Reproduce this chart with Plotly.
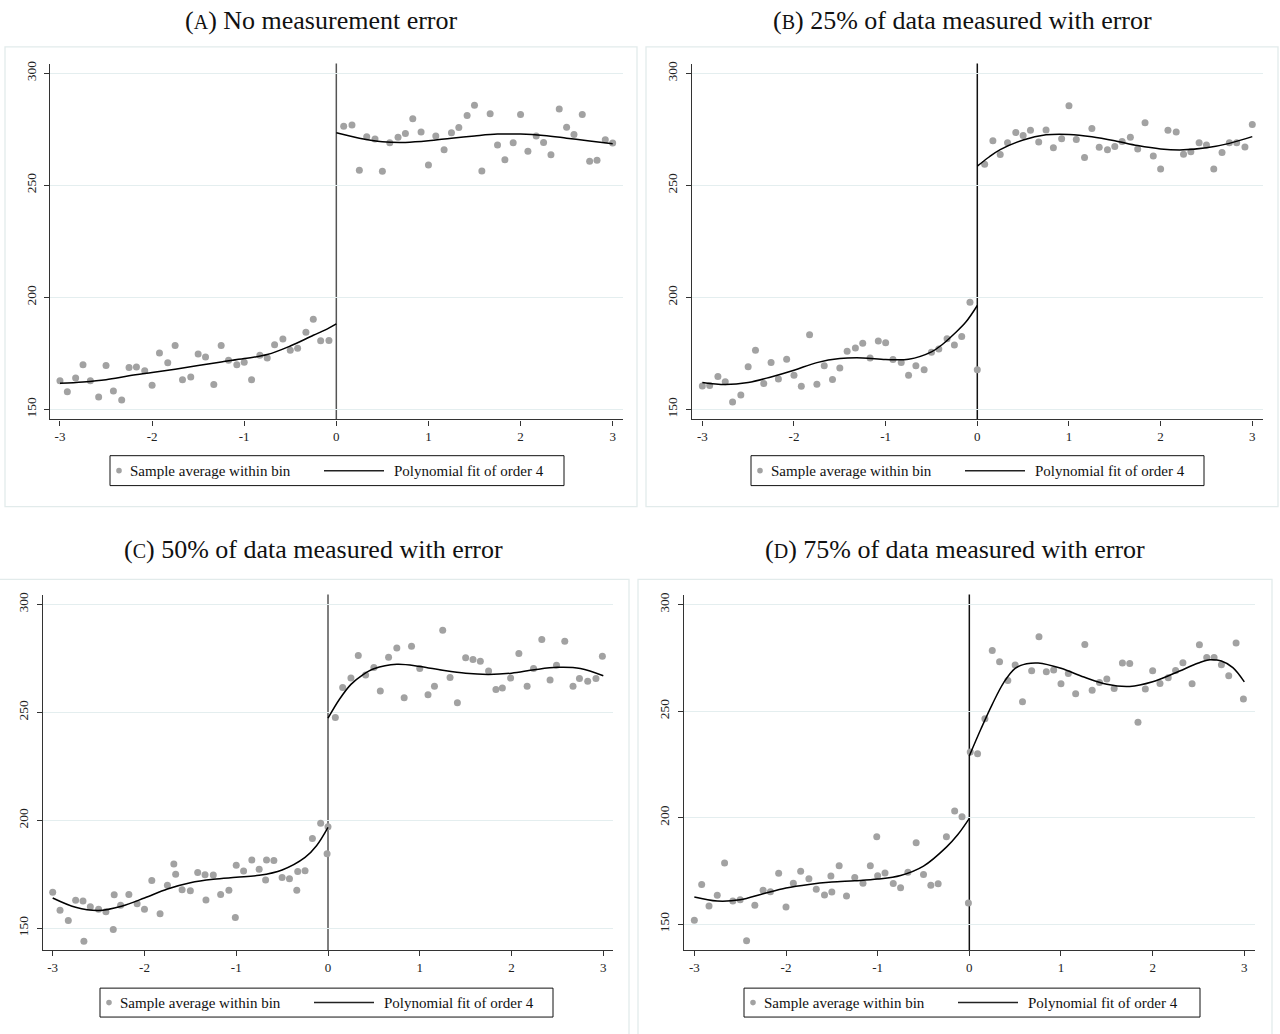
import plotly.graph_objects as go

W, H = 1280, 1034

# ---------------- data: sample averages within bins ----------------
# Panel A: no measurement error
a_left_x = [-3.00, -2.92, -2.83, -2.75, -2.67, -2.58, -2.50, -2.42, -2.33, -2.25, -2.17, -2.08,
            -2.00, -1.92, -1.83, -1.75, -1.67, -1.58, -1.50, -1.42, -1.33, -1.25, -1.17, -1.08,
            -1.00, -0.92, -0.83, -0.75, -0.67, -0.58, -0.50, -0.42, -0.33, -0.25, -0.17, -0.08]
a_left_y = [162.8, 157.9, 164.1, 170.0, 162.8, 155.6, 169.6, 158.2, 154.2, 168.7, 169.0, 167.3,
            160.8, 175.2, 170.8, 178.5, 163.3, 164.5, 174.8, 173.4, 161.1, 178.5, 172.0, 170.0,
            171.1, 163.3, 174.2, 173.0, 178.9, 181.4, 176.4, 177.3, 184.4, 190.2, 180.7, 180.8]
a_right_x = [0.08, 0.17, 0.25, 0.33, 0.42, 0.50, 0.58, 0.67, 0.75, 0.83, 0.92, 1.00,
             1.08, 1.17, 1.25, 1.33, 1.42, 1.50, 1.58, 1.67, 1.75, 1.83, 1.92, 2.00,
             2.08, 2.17, 2.25, 2.33, 2.42, 2.50, 2.58, 2.67, 2.75, 2.83, 2.92, 3.00]
a_right_y = [276.3, 276.9, 256.7, 271.6, 270.6, 256.2, 268.9, 271.4, 273.1, 279.6, 273.7, 259.0,
             272.0, 265.8, 273.4, 275.7, 281.1, 285.7, 256.4, 281.9, 267.9, 261.4, 268.9, 281.5,
             265.2, 272.0, 269.1, 263.6, 284.0, 275.9, 272.6, 281.5, 260.7, 261.1, 270.3, 268.8]

# Panel B: 25% of data measured with error
b_left_x = [-3.00, -2.92, -2.83, -2.75, -2.67, -2.58, -2.50, -2.42, -2.33, -2.25, -2.17, -2.08,
            -2.00, -1.92, -1.83, -1.75, -1.67, -1.58, -1.50, -1.42, -1.33, -1.25, -1.17, -1.08,
            -1.00, -0.92, -0.83, -0.75, -0.67, -0.58, -0.50, -0.42, -0.33, -0.25, -0.17, -0.08, 0.00]
b_left_y = [160.5, 160.7, 164.7, 162.3, 153.3, 156.4, 169.0, 176.4, 161.6, 170.9, 163.6, 172.4,
            165.3, 160.3, 183.3, 161.2, 169.5, 163.3, 168.5, 176.0, 177.4, 179.5, 173.0, 180.6,
            179.8, 172.3, 170.9, 165.3, 169.5, 167.7, 175.5, 177.0, 181.5, 178.8, 182.5, 197.8, 167.7]
b_right_x = [0.08, 0.17, 0.25, 0.33, 0.42, 0.50, 0.58, 0.67, 0.75, 0.83, 0.92, 1.00,
             1.08, 1.17, 1.25, 1.33, 1.42, 1.50, 1.58, 1.67, 1.75, 1.83, 1.92, 2.00,
             2.08, 2.17, 2.25, 2.33, 2.42, 2.50, 2.58, 2.67, 2.75, 2.83, 2.92, 3.00]
b_right_y = [259.5, 270.0, 263.8, 269.1, 273.6, 272.3, 274.6, 269.4, 274.8, 266.8, 270.9, 285.6,
             270.5, 262.5, 275.4, 267.1, 265.9, 267.4, 269.6, 271.5, 266.3, 278.0, 263.1, 257.4,
             274.6, 273.9, 263.9, 265.1, 269.1, 268.1, 257.4, 264.7, 269.1, 269.1, 267.2, 277.2]

# Panel C: 50% of data measured with error
c_left_x = [-3.00, -2.92, -2.83, -2.75, -2.67, -2.66, -2.59, -2.50, -2.42, -2.33, -2.34, -2.26,
            -2.17, -2.08, -2.00, -1.92, -1.83, -1.75, -1.68, -1.66, -1.59, -1.50, -1.42, -1.34,
            -1.33, -1.25, -1.17, -1.08, -1.00, -1.01, -0.92, -0.83, -0.75, -0.67, -0.68, -0.59,
            -0.50, -0.42, -0.33, -0.34, -0.25, -0.17, -0.08, 0.00, -0.01]
c_left_y = [166.7, 158.3, 153.6, 163.0, 162.6, 144.0, 160.0, 158.8, 157.6, 165.5, 149.4, 160.6,
            165.6, 161.3, 158.8, 172.1, 156.7, 169.9, 179.8, 175.0, 167.8, 167.4, 175.8, 174.8,
            163.1, 174.7, 165.6, 167.6, 179.2, 155.0, 176.5, 181.6, 177.3, 181.6, 172.3, 181.4,
            173.5, 172.9, 176.3, 167.6, 176.6, 191.6, 198.7, 197.0, 184.5]
c_right_x = [0.08, 0.16, 0.25, 0.33, 0.41, 0.50, 0.57, 0.66, 0.75, 0.83, 0.91, 1.00,
             1.09, 1.16, 1.25, 1.33, 1.41, 1.50, 1.58, 1.66, 1.75, 1.83, 1.90, 1.99,
             2.08, 2.17, 2.24, 2.33, 2.42, 2.49, 2.58, 2.67, 2.74, 2.83, 2.92, 2.99]
c_right_y = [247.6, 261.6, 265.9, 276.4, 267.3, 270.8, 259.9, 275.6, 279.8, 256.8, 280.7, 270.4,
             258.2, 262.1, 288.1, 266.2, 254.5, 275.3, 274.5, 273.7, 269.2, 260.6, 261.3, 265.9,
             277.3, 262.1, 270.4, 283.8, 265.0, 271.8, 283.0, 262.1, 265.7, 264.4, 265.7, 276.0]

# Panel D: 75% of data measured with error
d_left_x = [-3.00, -2.92, -2.84, -2.75, -2.67, -2.58, -2.50, -2.43, -2.34, -2.25, -2.17, -2.08,
            -2.00, -1.92, -1.84, -1.75, -1.67, -1.58, -1.51, -1.50, -1.42, -1.34, -1.25, -1.16,
            -1.08, -1.01, -1.00, -0.92, -0.83, -0.75, -0.67, -0.58, -0.50, -0.42, -0.34, -0.25,
            -0.16, -0.08, -0.01]
d_left_y = [151.9, 168.7, 158.6, 163.6, 178.7, 160.9, 161.5, 142.3, 158.9, 165.9, 165.3, 173.9,
            158.1, 169.2, 174.9, 171.4, 166.4, 163.7, 172.6, 165.1, 177.5, 163.2, 171.9, 169.2,
            177.5, 191.1, 172.8, 174.1, 169.1, 167.1, 174.4, 188.3, 173.3, 168.3, 169.0, 191.1,
            203.2, 200.4, 160.0]
d_right_x = [0.01, 0.09, 0.17, 0.25, 0.33, 0.42, 0.50, 0.58, 0.68, 0.76, 0.84, 0.92,
             1.00, 1.08, 1.16, 1.26, 1.34, 1.42, 1.50, 1.58, 1.67, 1.75, 1.84, 1.92,
             2.00, 2.08, 2.17, 2.25, 2.33, 2.43, 2.51, 2.59, 2.67, 2.75, 2.83, 2.91, 2.99]
d_right_y = [230.8, 230.0, 246.4, 278.5, 273.2, 264.4, 271.6, 254.4, 269.0, 284.9, 268.5, 269.3,
             262.9, 267.7, 258.2, 281.3, 259.8, 263.4, 265.1, 260.6, 272.6, 272.3, 244.8, 260.4,
             268.9, 263.0, 265.7, 269.1, 272.7, 262.9, 281.1, 275.2, 275.2, 271.8, 266.6, 282.0, 255.7]

# ---------------- data: order-4 polynomial fits (values along each curve) ----------------
a_fit_left_x = [-3.0, -2.75, -2.5, -2.25, -2.0, -1.75, -1.5, -1.25, -1.0, -0.75, -0.5, -0.25, -0.125, 0.0]
a_fit_left_y = [161.7, 162.3, 163.3, 165.0, 166.5, 168.0, 169.6, 171.2, 172.7, 174.5, 178.3, 183.1, 185.4, 188.2]
a_fit_right_x = [0.0, 0.25, 0.5, 0.75, 1.0, 1.25, 1.5, 1.75, 2.0, 2.25, 2.5, 2.75, 3.0]
a_fit_right_y = [273.4, 271.0, 269.4, 269.1, 269.8, 271.0, 272.0, 272.8, 272.8, 272.2, 271.0, 269.7, 268.5]

b_fit_left_x = [-3.0, -2.75, -2.5, -2.25, -2.0, -1.75, -1.5, -1.25, -1.0, -0.75, -0.5, -0.375, -0.25, -0.125, 0.0]
b_fit_left_y = [162.0, 161.1, 162.0, 164.5, 167.5, 170.9, 172.7, 173.0, 172.3, 172.4, 175.7, 179.2, 183.8, 189.0, 196.4]
b_fit_right_x = [0.0, 0.125, 0.25, 0.5, 0.75, 1.0, 1.25, 1.5, 1.75, 2.0, 2.25, 2.5, 2.75, 3.0]
b_fit_right_y = [258.6, 262.6, 266.0, 270.3, 272.6, 272.8, 271.8, 270.0, 267.8, 266.3, 265.9, 266.8, 268.8, 271.8]

c_fit_left_x = [-3.0, -2.75, -2.5, -2.25, -2.0, -1.75, -1.5, -1.25, -1.0, -0.75, -0.5, -0.25, -0.125, 0.0]
c_fit_left_y = [164.0, 159.7, 158.2, 160.2, 164.0, 168.2, 171.1, 172.7, 173.6, 174.5, 177.0, 182.8, 188.2, 196.7]
c_fit_right_x = [0.0, 0.125, 0.25, 0.375, 0.5, 0.75, 1.0, 1.25, 1.5, 1.75, 2.0, 2.25, 2.5, 2.75, 3.0]
c_fit_right_y = [247.3, 256.1, 263.0, 267.3, 270.2, 272.3, 271.3, 269.5, 268.1, 267.6, 268.2, 269.8, 270.9, 270.4, 267.0]

d_fit_left_x = [-3.0, -2.75, -2.5, -2.25, -2.0, -1.75, -1.5, -1.25, -1.0, -0.75, -0.5, -0.25, -0.125, 0.0]
d_fit_left_y = [162.8, 160.9, 161.5, 164.3, 167.0, 168.7, 169.8, 170.4, 171.2, 172.9, 177.3, 186.2, 192.1, 199.7]
d_fit_right_x = [0.0, 0.125, 0.25, 0.375, 0.5, 0.625, 0.75, 1.0, 1.25, 1.5, 1.75, 2.0, 2.25, 2.5, 2.625, 2.75, 2.875, 3.0]
d_fit_right_y = [229.0, 241.5, 253.2, 263.4, 270.1, 272.2, 272.6, 270.1, 266.0, 262.6, 261.6, 263.8, 268.0, 272.6, 274.1, 273.5, 270.4, 263.7]

# ---------------- axis labels and text ----------------
x_tick_vals = [-3, -2, -1, 0, 1, 2, 3]
x_tick_text = ["-3", "-2", "-1", "0", "1", "2", "3"]
y_tick_vals = [150, 200, 250, 300]
y_tick_text = ["150", "200", "250", "300"]

panel_letters = ["A", "B", "C", "D"]
panel_titles = ["No measurement error",
                "25% of data measured with error",
                "50% of data measured with error",
                "75% of data measured with error"]
legend_labels = ["Sample average within bin", "Polynomial fit of order 4"]

# ---------------- layout geometry (pixels) ----------------
SERIF = "Liberation Serif"
DOT = "#a2a2a2"
GRID = "#e4eeef"
FRAME = "#e2ebeb"
AXIS = "#333333"


def px(x):
    return x / W


def py(y):
    return 1 - y / H


panels = [
    dict(plot=(50.3, 622.8, 60.7, 417.7), xr=(-3.105, 3.110), yr=(145.55, 304.27),
         box=(5, 637, 44, 505), title_y=18, legend=(110, 564, 454, 484), zero="#555555",
         pts=[(a_left_x, a_left_y), (a_right_x, a_right_y)],
         fits=[(a_fit_left_x, a_fit_left_y), (a_fit_right_x, a_fit_right_y)]),
    dict(plot=(691.7, 1263.0, 60.7, 417.7), xr=(-3.116, 3.117), yr=(145.5, 304.45),
         box=(646, 1278, 44, 505), title_y=18, legend=(751, 1204, 454, 484), zero="#111111",
         pts=[(b_left_x, b_left_y), (b_right_x, b_right_y)],
         fits=[(b_fit_left_x, b_fit_left_y), (b_fit_right_x, b_fit_right_y)]),
    dict(plot=(42.7, 613.3, 593.3, 950.0), xr=(-3.109, 3.109), yr=(139.8, 304.6),
         box=(-3, 629, 578, 1040), title_y=548, legend=(100, 553, 988, 1017), zero="#555555",
         pts=[(c_left_x, c_left_y), (c_right_x, c_right_y)],
         fits=[(c_fit_left_x, c_fit_left_y), (c_fit_right_x, c_fit_right_y)]),
    dict(plot=(683.7, 1254.5, 593.3, 950.0), xr=(-3.116, 3.111), yr=(137.8, 304.7),
         box=(638, 1272, 578, 1040), title_y=548, legend=(744, 1200, 988, 1017), zero="#111111",
         pts=[(d_left_x, d_left_y), (d_right_x, d_right_y)],
         fits=[(d_fit_left_x, d_fit_left_y), (d_fit_right_x, d_fit_right_y)]),
]

fig = go.Figure()
shapes = []
annotations = []
layout_axes = {}

for i, p in enumerate(panels):
    sfx = "" if i == 0 else str(i + 1)
    xa, ya = "x" + sfx, "y" + sfx
    l, r, t, b = p["plot"]

    # outer frame of the panel
    bx0, bx1, by0, by1 = p["box"]
    shapes.append(dict(type="rect", xref="paper", yref="paper",
                       x0=px(bx0), x1=px(bx1), y0=py(by1), y1=py(by0),
                       line=dict(color=FRAME, width=1.3), fillcolor="rgba(0,0,0,0)", layer="below"))

    # bin averages
    for xs, ys in p["pts"]:
        fig.add_trace(go.Scatter(x=xs, y=ys, mode="markers", xaxis=xa, yaxis=ya,
                                 marker=dict(size=7, color=DOT, line=dict(width=0)),
                                 showlegend=False, hoverinfo="skip"))
    # polynomial fits on each side of the cutoff
    for xs, ys in p["fits"]:
        fig.add_trace(go.Scatter(x=xs, y=ys, mode="lines", xaxis=xa, yaxis=ya,
                                 line=dict(color="#000000", width=1.5, shape="spline", smoothing=1.0),
                                 showlegend=False, hoverinfo="skip"))

    # cutoff line at zero
    shapes.append(dict(type="line", xref=xa, yref=ya + " domain", x0=0, x1=0, y0=0, y1=1,
                       line=dict(color=p["zero"], width=1.5), layer="below"))

    layout_axes["xaxis" + sfx] = dict(
        domain=[px(l), px(r)], range=list(p["xr"]), anchor=ya,
        tickmode="array", tickvals=x_tick_vals, ticktext=x_tick_text,
        ticks="outside", ticklen=5, tickwidth=1, tickcolor=AXIS,
        showline=True, linecolor=AXIS, linewidth=1.2, showgrid=False, zeroline=False,
        tickfont=dict(family=SERIF, size=13, color="#222222"), fixedrange=True)
    layout_axes["yaxis" + sfx] = dict(
        domain=[py(b), py(t)], range=list(p["yr"]), anchor=xa,
        tickmode="array", tickvals=y_tick_vals, ticktext=y_tick_text, tickangle=-90,
        ticks="outside", ticklen=5, tickwidth=1, tickcolor=AXIS, ticklabelstandoff=3,
        showline=True, linecolor=AXIS, linewidth=1.2,
        showgrid=True, gridcolor=GRID, gridwidth=1.3, zeroline=False,
        tickfont=dict(family=SERIF, size=13.5, color="#222222"), fixedrange=True)

    # panel caption
    annotations.append(dict(
        xref="paper", yref="paper", x=px((bx0 + bx1) / 2), y=py(p["title_y"]),
        xanchor="center", yanchor="middle", showarrow=False,
        text="(<span style='font-size:20px'>%s</span>) %s" % (panel_letters[i], panel_titles[i]),
        font=dict(family=SERIF, size=26, color="#111111")))

    # legend box
    lx0, lx1, ly0, ly1 = p["legend"]
    cy = (ly0 + ly1) / 2
    shapes.append(dict(type="rect", xref="paper", yref="paper",
                       x0=px(lx0), x1=px(lx1), y0=py(ly1), y1=py(ly0),
                       line=dict(color="#111111", width=1), fillcolor="white"))
    shapes.append(dict(type="circle", xref="paper", yref="paper",
                       x0=px(lx0 + 9 - 2.8), x1=px(lx0 + 9 + 2.8),
                       y0=py(cy + 2.8), y1=py(cy - 2.8),
                       line=dict(width=0), fillcolor=DOT))
    shapes.append(dict(type="line", xref="paper", yref="paper",
                       x0=px(lx0 + 214), x1=px(lx0 + 274), y0=py(cy), y1=py(cy),
                       line=dict(color="#222222", width=1.5)))
    annotations.append(dict(xref="paper", yref="paper", x=px(lx0 + 18), y=py(cy),
                            xanchor="left", yanchor="middle", showarrow=False,
                            text=legend_labels[0],
                            font=dict(family=SERIF, size=15, color="#111111")))
    annotations.append(dict(xref="paper", yref="paper", x=px(lx0 + 282), y=py(cy),
                            xanchor="left", yanchor="middle", showarrow=False,
                            text=legend_labels[1],
                            font=dict(family=SERIF, size=15, color="#111111")))

fig.update_layout(
    width=W, height=H, margin=dict(l=0, r=0, t=0, b=0),
    paper_bgcolor="white", plot_bgcolor="white",
    showlegend=False, shapes=shapes, annotations=annotations,
    **layout_axes)

fig.write_html("out.html", config=dict(displayModeBar=False))
